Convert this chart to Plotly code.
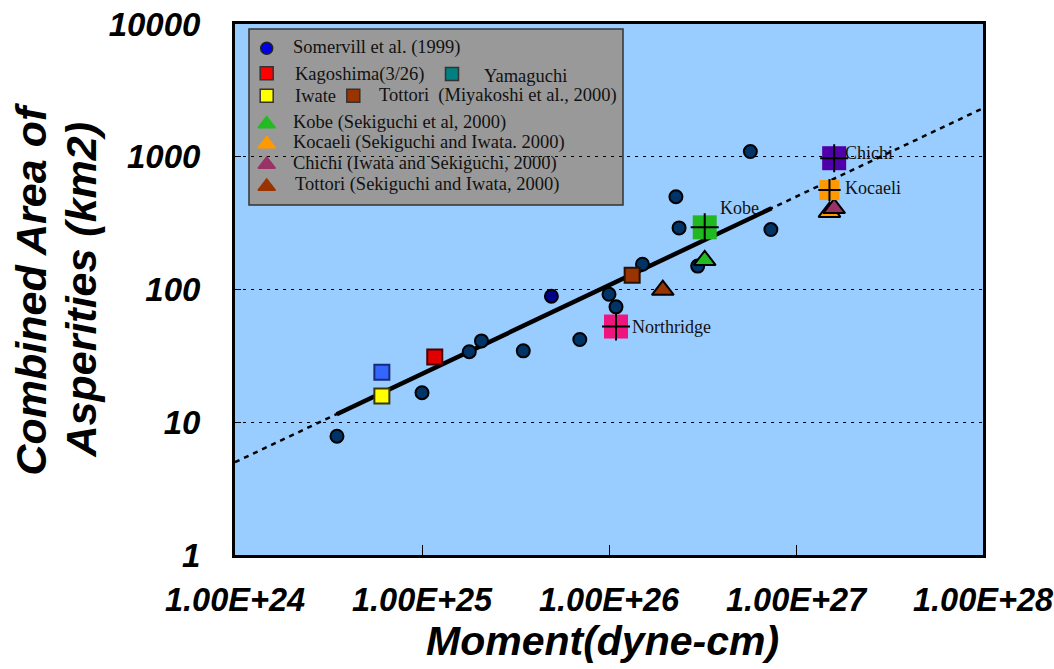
import numpy as np
import plotly.graph_objects as go

# ---------------------------------------------------------------- data
# Somerville et al. (1999) inversion results
somerville_moment = [3.51e24, 1.0e25, 1.79e25, 2.08e25, 3.48e25, 6.98e25, 1.0e26,
                     1.09e26, 1.51e26, 2.28e26, 2.37e26, 2.98e26, 5.7e26, 7.34e26]
somerville_area = [7.85, 16.7, 34, 41, 34.5, 42, 92, 74, 155, 500, 291, 150, 1095, 283]
somerville_hl_moment = [4.92e25]
somerville_hl_area = [89]

# Miyakoshi et al. (2000)
miyakoshi_names = ["Kagoshima(3/26)", "Yamaguchi", "Iwate", "Tottori"]
miyakoshi_moment = [1.17e25, 6.1e24, 6.1e24, 1.33e26]
miyakoshi_area = [31, 23.8, 15.8, 128]

# Sekiguchi & Iwata (2000)
sekiguchi_names = ["Kobe", "Kocaeli", "Chichi", "Tottori"]
sekiguchi_moment = [3.25e26, 1.51e27, 1.6e27, 1.94e26]
sekiguchi_area = [166, 382, 409, 99]

# labelled events (square with cross)
labelled_names = ["Northridge", "Kobe", "Kocaeli", "Chichi"]
labelled_moment = [1.09e26, 3.25e26, 1.51e27, 1.6e27]
labelled_area = [52.6, 294, 561, 975]

# scaling relation Sa ~ M0^(2/3): fitted range and extrapolation
fit_moment = [3.5e24, 7.4e26]
fit_area = [11.5, 409]
fit_ext_moment = [1e24, 1e28]
fit_ext_area = [5.0, 2320]

x_tickvals = [1e24, 1e25, 1e26, 1e27, 1e28]
x_ticktext = ["1.00E+24", "1.00E+25", "1.00E+26", "1.00E+27", "1.00E+28"]
y_tickvals = [1, 10, 100, 1000, 10000]
y_ticktext = ["1", "10", "100", "1000", "10000"]

# ---------------------------------------------------------------- layout geometry
W, H = 1054, 669
L, R, T, B = 235, 983, 24, 555          # plot area in pixels
PW, PH = R - L, B - T

def px_x(p):
    return (p - L) / PW

def px_y(p):
    return (B - p) / PH

SANS = "Liberation Sans"
SERIF = "Liberation Serif"

fig = go.Figure()

# scaling lines
fig.add_trace(go.Scatter(x=fit_ext_moment, y=fit_ext_area, mode="lines",
                         line=dict(color="black", width=2.5, dash="5px,5px"),
                         hoverinfo="skip"))
fig.add_trace(go.Scatter(x=fit_moment, y=fit_area, mode="lines",
                         line=dict(color="black", width=4.5), hoverinfo="skip"))

# Somerville points
fig.add_trace(go.Scatter(x=somerville_moment, y=somerville_area, mode="markers",
                         marker=dict(symbol="circle", size=13, color="#003366", opacity=1,
                                     line=dict(color="black", width=2))))
fig.add_trace(go.Scatter(x=somerville_hl_moment, y=somerville_hl_area, mode="markers",
                         marker=dict(symbol="circle", size=13, color="#00008b", opacity=1,
                                     line=dict(color="black", width=2))))

# Miyakoshi squares
fig.add_trace(go.Scatter(x=miyakoshi_moment, y=miyakoshi_area, mode="markers",
                         text=miyakoshi_names,
                         marker=dict(symbol="square", size=15, opacity=1,
                                     color=["#e00000", "#3366ff", "#ffff00", "#993300"],
                                     line=dict(color=["#4a0000", "#1a2a7a", "#3a3a00", "#2a1000"],
                                               width=2))))

# Sekiguchi triangles
fig.add_trace(go.Scatter(x=sekiguchi_moment, y=sekiguchi_area, mode="markers",
                         text=sekiguchi_names,
                         marker=dict(symbol="triangle-up", size=19, opacity=1,
                                     color=["#22bb22", "#ff9900", "#993366", "#993300"],
                                     line=dict(color="black", width=2))))

# labelled squares with crosses
lab_colors = ["#f0147f", "#22b822", "#ff9900", "#5000a8"]
fig.add_trace(go.Scatter(x=labelled_moment, y=labelled_area, mode="markers",
                         text=labelled_names,
                         marker=dict(symbol="square", size=[24, 24, 20, 24], opacity=1,
                                     color=lab_colors, line=dict(width=0))))
fig.add_trace(go.Scatter(x=labelled_moment, y=labelled_area, mode="markers",
                         marker=dict(symbol="cross-thin", size=[20, 20, 16, 20], opacity=1,
                                     color="black", line=dict(color="black", width=2))))

# ---------------------------------------------------------------- legend box
legend_items = [
    # symbol, fill, border, marker px (x, y), label, label px (x, y)
    ("circle", "#0000dd", "#222222", 266.7, 48.3, "Somervill et al. (1999)", 290.7, 47.5),
    ("square", "#ff0000", "#333333", 266.7, 73.3, "Kagoshima(3/26)", 293.3, 74),
    ("square", "#008080", "#333333", 452.0, 74.0, "Yamaguchi", 481.7, 76),
    ("square", "#ffff00", "#333333", 266.7, 95.7, "Iwate", 292.7, 96),
    ("square", "#993300", "#333333", 353.3, 95.7, "Tottori\u00a0 (Miyakoshi et al., 2000)", 377.3, 96),
    ("triangle-up", "#22bb22", "#22bb22", 266.7, 124.0, "Kobe (Sekiguchi et al, 2000)", 290.7, 122.5),
    ("triangle-up", "#ff9900", "#ff9900", 266.7, 144.0, "Kocaeli (Sekiguchi and Iwata. 2000)", 290.7, 142.5),
    ("triangle-up", "#993366", "#993366", 266.7, 164.5, "Chichi (Iwata and Sekiguchi, 2000)", 290.7, 163.5),
    ("triangle-up", "#993300", "#993300", 266.7, 186.5, "Tottori (Sekiguchi and Iwata, 2000)", 293.3, 184.5),
]

fig.add_shape(type="rect", xref="paper", yref="paper", layer="between",
              x0=px_x(249), x1=px_x(623), y0=px_y(205), y1=px_y(29),
              fillcolor="#999999", line=dict(color="#333333", width=1.5))

sizes = {"circle": 12, "square": 13, "triangle-up": 15}
fig.add_trace(go.Scatter(
    x=[px_x(it[3]) for it in legend_items],
    y=[px_y(it[4]) for it in legend_items],
    xaxis="x2", yaxis="y2", mode="markers", hoverinfo="skip",
    marker=dict(symbol=[it[0] for it in legend_items],
                size=[sizes[it[0]] for it in legend_items], opacity=1,
                color=[it[1] for it in legend_items],
                line=dict(color=[it[2] for it in legend_items], width=1.5))))

annotations = []
for it in legend_items:
    annotations.append(dict(xref="paper", yref="paper", x=px_x(it[6]), y=px_y(it[7]),
                            xanchor="left", yanchor="middle", showarrow=False, text=it[5],
                            font=dict(family=SERIF, size=18.5, color="#111111")))

# event labels next to the crossed squares
label_offsets = {"Northridge": (14, 0), "Kobe": (13, 19), "Kocaeli": (14, 2), "Chichi": (9, 5)}
for name, m, a in zip(labelled_names, labelled_moment, labelled_area):
    dx, dy = label_offsets[name]
    annotations.append(dict(x=np.log10(m), y=np.log10(a), xref="x", yref="y",
                            xanchor="left", yanchor="middle", showarrow=False,
                            xshift=dx, yshift=dy, text=name,
                            font=dict(family=SERIF, size=18, color="#111111")))

# axis titles (two-line vertical title set as two rotated lines)
title_font_y = dict(family=SANS, size=43, color="black", weight="bold", style="italic")
annotations.append(dict(xref="paper", yref="paper", x=0, y=0.5, xshift=-205,
                        xanchor="center", yanchor="middle", textangle=-90, showarrow=False,
                        text="Combined Area of", font=title_font_y))
annotations.append(dict(xref="paper", yref="paper", x=0, y=0.5, xshift=-155,
                        xanchor="center", yanchor="middle", textangle=-90, showarrow=False,
                        text="Asperities (km2)", font=title_font_y))
annotations.append(dict(xref="paper", yref="paper", x=0.5, y=0, xshift=-7, yshift=-86,
                        xanchor="center", yanchor="middle", showarrow=False,
                        text="Moment(dyne-cm)",
                        font=dict(family=SANS, size=41, color="black", weight="bold", style="italic")))

tickfont_x = dict(family=SANS, size=32.5, color="black", weight="bold", style="italic")
tickfont_y = dict(family=SANS, size=33, color="black", weight="bold", style="italic")

fig.update_layout(
    width=W, height=H,
    margin=dict(l=L, r=W - R, t=T, b=H - B, pad=0, autoexpand=False),
    paper_bgcolor="white", plot_bgcolor="#99ccff",
    showlegend=False,
    annotations=annotations,
    xaxis=dict(type="log", range=[24, 28], tickvals=x_tickvals, ticktext=x_ticktext,
               ticks="inside", ticklen=10, tickwidth=1, tickcolor="black",
               showline=True, linewidth=3, linecolor="black", mirror=True,
               showgrid=False, zeroline=False, tickfont=tickfont_x,
               ticklabelstandoff=14, ticklabeloverflow="allow", automargin=False),
    yaxis=dict(type="log", range=[0, 4], tickvals=y_tickvals, ticktext=y_ticktext,
               ticks="inside", ticklen=6, tickwidth=1, tickcolor="black",
               showline=True, linewidth=3, linecolor="black", mirror=True,
               showgrid=True, gridcolor="black", gridwidth=1, griddash="3px,5px",
               zeroline=False, tickfont=tickfont_y, ticklabelstandoff=25,
               ticklabeloverflow="allow", automargin=False),
    xaxis2=dict(overlaying="x", anchor="y2", range=[0, 1], visible=False, fixedrange=True),
    yaxis2=dict(overlaying="y", anchor="x2", range=[0, 1], visible=False, fixedrange=True),
)

fig.write_html("out.html")
